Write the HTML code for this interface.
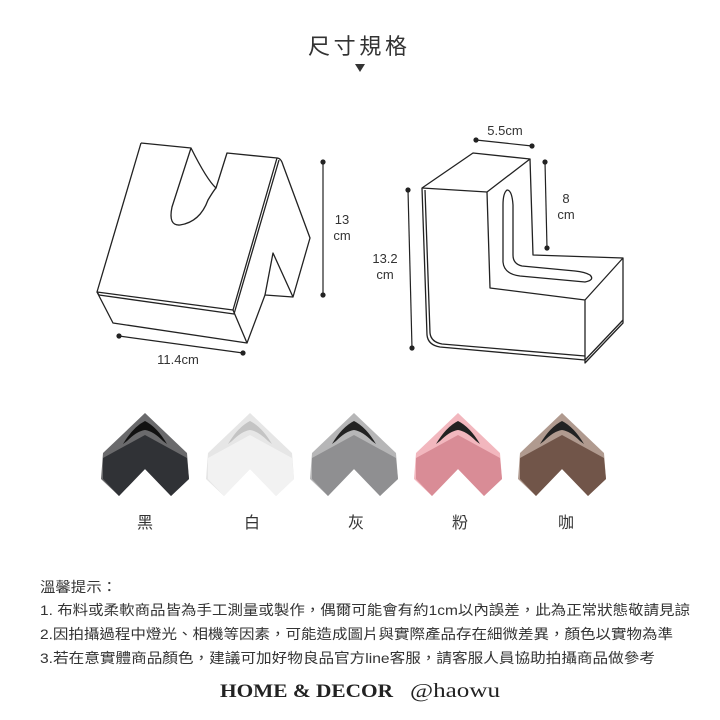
<!DOCTYPE html>
<html><head><meta charset="utf-8"><style>
html,body{margin:0;padding:0;background:#fff;}
svg{display:block;}
.t{font-family:"Liberation Sans","Noto Sans CJK TC",sans-serif;fill:#333;}
</style></head><body>
<svg width="720" height="720" viewBox="0 0 720 720" xmlns="http://www.w3.org/2000/svg">
<text class="t" x="359" y="54" font-size="22" text-anchor="middle" textLength="102" letter-spacing="3">尺寸規格</text>
<polygon points="355,64 365,64 360,72" fill="#333"/>

<g fill="none" stroke="#222" stroke-width="1.3" stroke-linejoin="round">
<path d="M141,143 L191,148 L172,207 Q168,226 180,225 Q200,222 208,200 Q214,190 216,188 Q207,180 191,148"/>
<path d="M216,188 L227,153 L277,158 L233,310 L97,292 L141,143"/>
<path d="M97,292 L99,295 L234,314 L279,160"/>
<path d="M97,292 L113,323 L247,343 L233,310"/>
<path d="M277,158 Q281,158 283,165 L310,238 L293,297 L265,295 L273,253 L293,297"/>
<path d="M247,343 L265,295"/>
</g>
<g fill="#222" stroke="#222" stroke-width="1.2">
<line x1="323" y1="162" x2="323" y2="295"/><circle cx="323" cy="162" r="2"/><circle cx="323" cy="295" r="2"/>
<line x1="119" y1="336" x2="243" y2="353"/><circle cx="119" cy="336" r="2"/><circle cx="243" cy="353" r="2"/>
<line x1="408" y1="190" x2="412" y2="348"/><circle cx="408" cy="190" r="2"/><circle cx="412" cy="348" r="2"/>
<line x1="476" y1="140" x2="532" y2="146"/><circle cx="476" cy="140" r="2"/><circle cx="532" cy="146" r="2"/>
<line x1="545" y1="162" x2="547" y2="248"/><circle cx="545" cy="162" r="2"/><circle cx="547" cy="248" r="2"/>
</g>
<g class="t" font-size="13" fill="#444">
<text x="342" y="224" text-anchor="middle">13</text><text x="342" y="240" text-anchor="middle">cm</text>
<text x="178" y="364" text-anchor="middle">11.4cm</text>
<text x="385" y="263" text-anchor="middle">13.2</text><text x="385" y="279" text-anchor="middle">cm</text>
<text x="505" y="135" text-anchor="middle">5.5cm</text>
<text x="566" y="203" text-anchor="middle">8</text><text x="566" y="219" text-anchor="middle">cm</text>
</g>

<g fill="none" stroke="#222" stroke-width="1.3" stroke-linejoin="round">
<path d="M422,188 L473,153 L530,159 L487,192 Z"/>
<path d="M422,188 L427,335 Q428,345 440,347 L585,360"/>
<path d="M425,190 L430,333 Q431,342 442,344 L585,356"/>
<path d="M487,192 L490,288 L585,300 L585,363 L623,323 L623,258 L585,300"/>
<path d="M530,159 L533,255 L623,258"/>
<path d="M585,360 L623,320"/>
<path d="M507,190 Q503,193 503,205 L503,262 Q504,274 520,276 L585,282 Q595,280 590,275 Q585,272 575,271 L522,266 Q513,264 513,255 L513,205 Q512,190 507,190 Z"/>
</g>

<defs>
<g id="sw">
<path d="M0,0 L42,40 L44,66 L26,83 L0,56 L-26,83 L-44,66 L-42,40 Z" fill="var(--a)"/>
<path d="M0,22 L42,45 L44,66 L26,83 L0,56 L-26,83 L-42,66 L-42,45 Z" fill="var(--b)"/>
<path d="M-22,31 Q-12,14 0,8 Q12,14 22,31 L18,28 Q8,18 0,17 Q-8,18 -18,28 Z" fill="var(--s)"/>
</g>
</defs>
<use href="#sw" x="145" y="413" style="--a:#6a6a6c;--b:#303236;--s:#111"/>
<use href="#sw" x="250" y="413" style="--a:#e6e6e6;--b:#f2f2f2;--s:#c4c4c4"/>
<use href="#sw" x="354" y="413" style="--a:#b6b6b7;--b:#8f8f91;--s:#222"/>
<use href="#sw" x="458" y="413" style="--a:#f2b7be;--b:#d98c96;--s:#222"/>
<use href="#sw" x="562" y="413" style="--a:#b09a8f;--b:#715549;--s:#222"/>

<g class="t" font-size="16" fill="#333" text-anchor="middle">
<text x="145" y="528">黑</text><text x="252" y="528">白</text><text x="356" y="528">灰</text><text x="460" y="528">粉</text><text x="566" y="528">咖</text>
</g>

<g class="t" font-size="14" fill="#333">
<text x="40" y="592" textLength="77" lengthAdjust="spacingAndGlyphs">溫馨提示：</text>
<text x="40" y="615" textLength="650" lengthAdjust="spacingAndGlyphs">1. 布料或柔軟商品皆為手工測量或製作，偶爾可能會有約1cm以內誤差，此為正常狀態敬請見諒</text>
<text x="40" y="639" textLength="633" lengthAdjust="spacingAndGlyphs">2.因拍攝過程中燈光、相機等因素，可能造成圖片與實際產品存在細微差異，顏色以實物為準</text>
<text x="40" y="663" textLength="615" lengthAdjust="spacingAndGlyphs">3.若在意實體商品顏色，建議可加好物良品官方line客服，請客服人員協助拍攝商品做參考</text>
</g>
<text x="220" y="697" font-family="Liberation Serif,serif" font-weight="bold" font-size="19" fill="#222" textLength="173" lengthAdjust="spacingAndGlyphs">HOME &amp; DECOR</text>
<text x="410" y="697" font-family="Liberation Serif,serif" font-size="20" fill="#222" textLength="90" lengthAdjust="spacingAndGlyphs">@haowu</text>
</svg>
</body></html>
